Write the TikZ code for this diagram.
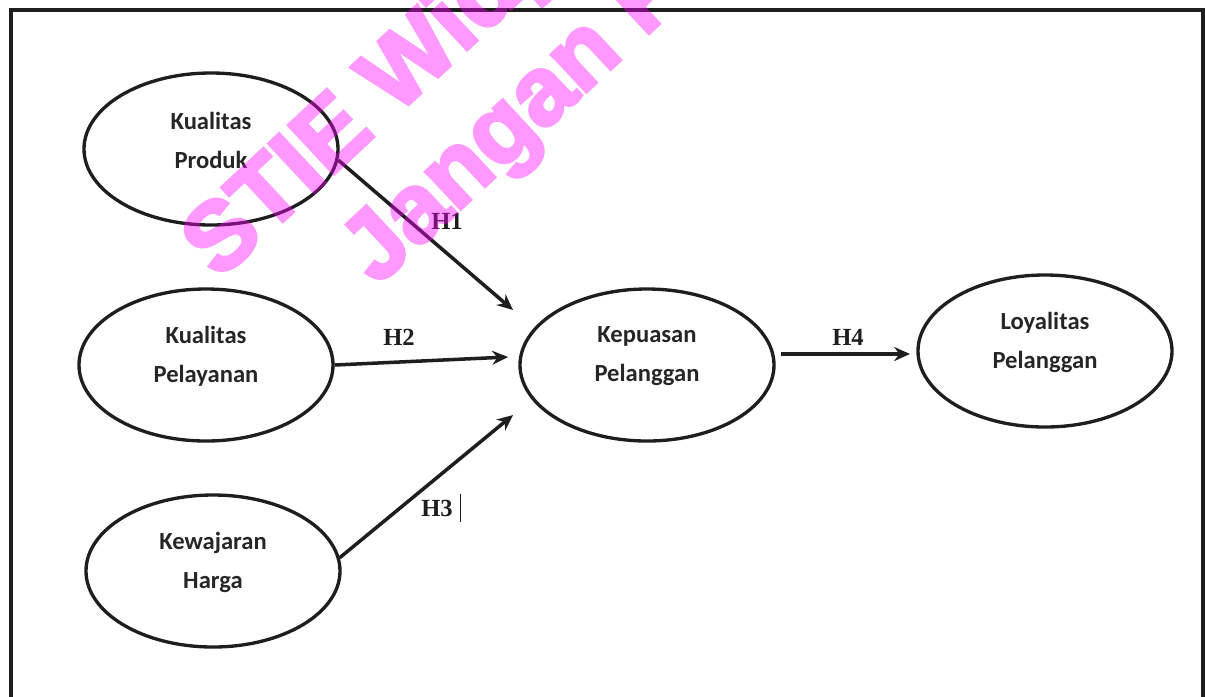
\documentclass[tikz,border=0pt]{standalone}
\usepackage{fontspec}
\usepackage{tikz}
\usetikzlibrary{positioning,shapes.geometric,arrows.meta}
\newfontfamily\ovalfont{Carlito}
\newfontfamily\hypfont{Liberation Serif}
\newfontfamily\markfont[BoldFeatures={FakeBold=3.5}]{Liberation Sans}
\definecolor{inkgray}{HTML}{1E1E1E}
\definecolor{txtgray}{HTML}{262626}
\definecolor{markpink}{RGB}{255,0,255}

\tikzset{
    var/.style={ellipse, draw=inkgray, line width=1.9pt, minimum width=50.8mm, minimum height=30.4mm, inner sep=0pt},
    vartext/.style={align=center, font=\ovalfont\bfseries\fontsize{14}{22}\selectfont, text=txtgray},
    hyp/.style={draw=inkgray, line width=2pt, -{Stealth[length=9pt,width=8pt]}},
    hyplabel/.style={font=\hypfont\bfseries\fontsize{14}{16}\selectfont, text=inkgray},
    wmark/.style={font=\markfont\bfseries\fontsize{55}{55}\selectfont, text=markpink, rotate=43, anchor=base west, inner sep=0pt}
}

\begin{document}
\begin{tikzpicture}[x=0.2mm,y=-0.2mm]
                \useasboundingbox (0,0) rectangle (1205,696);
                \clip (0,0) rectangle (1205,696);

                %Frame
                \draw[inkgray, line width=2.5pt] (11,710) -- (11,10) -- (1203,10) -- (1203,710);

                %Nodes
                \node[var] at (211,149)  (KP)  {};
                \node[var] at (206,365)  (KL)  {};
                \node[var] at (213,571)  (KH)  {};
                \node[var] at (647,365)  (KPu) {};
                \node[var] at (1045,351) (LP)  {};

                \node[vartext] at ([yshift=5pt]KP.center)  (KPt)  {Kualitas\\Produk};
                \node[vartext] at ([yshift=5pt]KL.center)  (KLt)  {Kualitas\\Pelayanan};
                \node[vartext] at ([yshift=5pt]KH.center)  (KHt)  {Kewajaran\\Harga};
                \node[vartext] at ([yshift=5pt]KPu.center) (KPut) {Kepuasan\\Pelanggan};
                \node[vartext] at ([yshift=5pt]LP.center)  (LPt)  {Loyalitas\\Pelanggan};

                %Arrow tips
                \coordinate (E1) at (513,310);
                \coordinate (E2) at (508,357);
                \coordinate (E3) at (513,415);
                \coordinate (E4) at (910,354);

                %Lines
                \draw[hyp] (KP.-5) -- (E1);
                \draw[hyp] (KL.east) -- (E2);
                \draw[hyp] (KH.6) -- (E3);
                \draw[hyp] ([xshift=3pt]KPu.east |- E4) -- (E4);

                %Labels
                \node[hyplabel] at (447,221) (H1) {H1};
                \node[hyplabel] at (399,337) (H2) {H2};
                \node[hyplabel] at (437,508) (H3) {H3};
                \node[hyplabel] at (848,337) (H4) {H4};
                \draw[inkgray, line width=0.6pt] ([xshift=1pt]H3.north east) -- ([xshift=1pt]H3.south east);

                %Watermark
                \begin{scope}[transparency group, opacity=0.4]
                \node[wmark] at (219,281) (wm1) {STIE Widya Wiwaha};
                \node[wmark] at (377,287) (wm2) {Jangan Plagiat};
                \end{scope}
            \end{tikzpicture}
\end{document}
